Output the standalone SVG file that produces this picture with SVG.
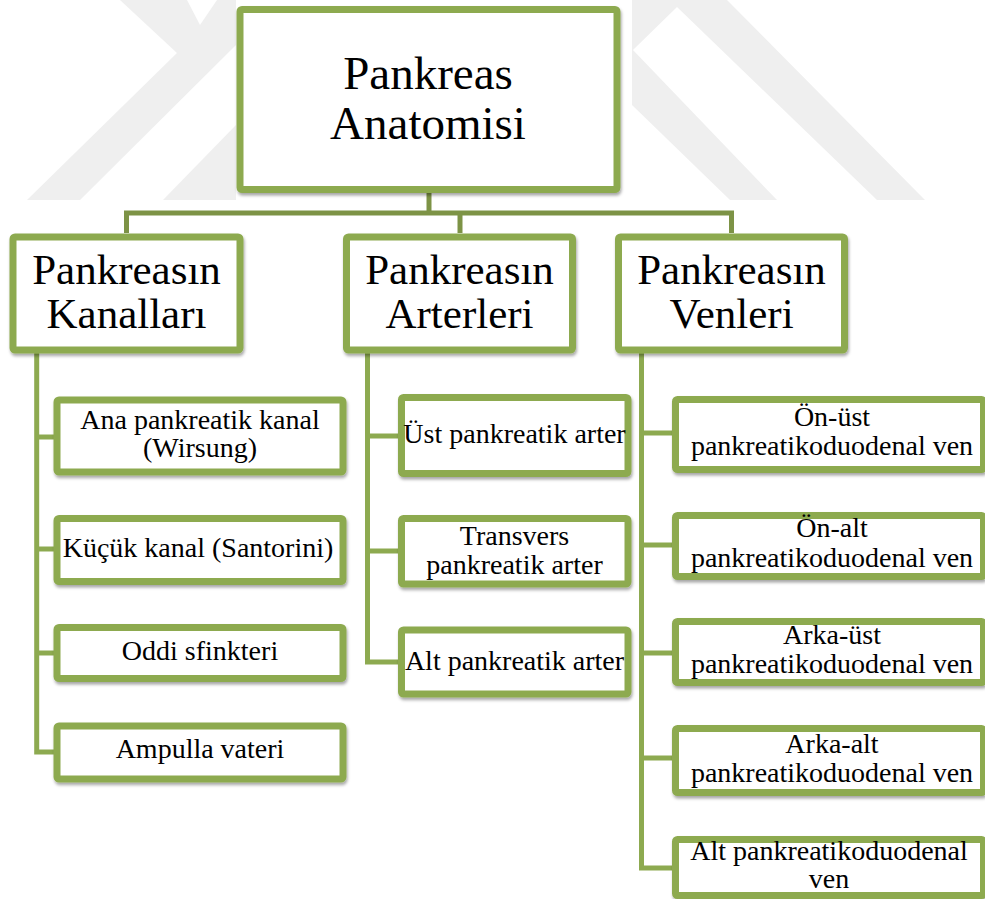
<svg xmlns="http://www.w3.org/2000/svg" width="985" height="899" viewBox="0 0 985 899">
<defs>
<filter id="sh" x="-10%" y="-10%" width="120%" height="130%">
<feDropShadow dx="1" dy="2.5" stdDeviation="1.5" flood-color="#000" flood-opacity="0.35"/>
</filter>
<style>
.box{fill:#fff;stroke:#8DAA50;stroke-width:7;filter:url(#sh)}
text{font-family:'Liberation Serif','Times New Roman','DejaVu Serif',serif;fill:#000;text-anchor:middle}
.big{font-size:47px}
.mid{font-size:43px}
.sm{font-size:28px}
.c1{fill:none;stroke:#7D9346;stroke-width:5}
.c2{fill:none;stroke:#8DAA50;stroke-width:5}
.wm{fill:#efefef}
</style>
</defs>
<rect width="985" height="899" fill="#fff"/>
<g id="watermark">
<polygon class="wm" points="120,0 187,0 200,25 217,0 236,0 236,45 80,200 27,200 177,53"/>
<polygon class="wm" points="163,200 236,125 236,200"/>
<polygon class="wm" points="632,0 727,0 925,200 730,200 632,105"/>
<polygon fill="#fff" points="633,50 677,7 877,200 777,200"/>
</g>
<g id="connectors">
<polyline class="c1" points="429,193 429,213"/>
<polyline class="c1" points="126.5,233 126.5,213 731.5,213 731.5,233"/>
<polyline class="c1" points="460,213 460,233"/>
<polyline class="c2" points="36.7,353 36.7,752 57,752"/>
<line class="c2" x1="36.7" y1="437" x2="57" y2="437"/>
<line class="c2" x1="36.7" y1="549" x2="57" y2="549"/>
<line class="c2" x1="36.7" y1="653" x2="57" y2="653"/>
<polyline class="c2" points="367.5,353 367.5,662 401.5,662"/>
<line class="c2" x1="367.5" y1="436" x2="401.5" y2="436"/>
<line class="c2" x1="367.5" y1="551" x2="401.5" y2="551"/>
<polyline class="c2" points="641.5,353 641.5,868 675.5,868"/>
<line class="c2" x1="641.5" y1="433" x2="675.5" y2="433"/>
<line class="c2" x1="641.5" y1="545" x2="675.5" y2="545"/>
<line class="c2" x1="641.5" y1="653" x2="675.5" y2="653"/>
<line class="c2" x1="641.5" y1="758" x2="675.5" y2="758"/>
</g>
<g id="root">
<rect class="box" x="240" y="9.5" width="377" height="180" rx="2"/>
<text class="big" x="428" y="89">Pankreas</text>
<text class="big" x="428" y="139">Anatomisi</text>
</g>
<g id="kanallar">
<rect class="box" x="13" y="237" width="227" height="113" rx="2"/>
<text class="mid" x="126.5" y="284">Pankreasın</text>
<text class="mid" x="126.5" y="328">Kanalları</text>
</g>
<g id="arterler">
<rect class="box" x="346.5" y="237" width="226" height="113" rx="2"/>
<text class="mid" x="459.5" y="284">Pankreasın</text>
<text class="mid" x="459.5" y="328">Arterleri</text>
</g>
<g id="venler">
<rect class="box" x="618.5" y="237" width="226" height="113" rx="2"/>
<text class="mid" x="731.5" y="284">Pankreasın</text>
<text class="mid" x="731.5" y="328">Venleri</text>
</g>
<g id="ana-kanal">
<rect class="box" x="57" y="400" width="286" height="72" rx="2"/>
<text class="sm" x="200" y="429">Ana pankreatik kanal</text>
<text class="sm" x="200" y="457">(Wirsung)</text>
</g>
<g id="kucuk-kanal">
<rect class="box" x="57" y="518.5" width="286" height="63" rx="2"/>
<text class="sm" x="198" y="557">Küçük kanal (Santorini)</text>
</g>
<g id="oddi">
<rect class="box" x="57" y="627.5" width="286" height="51" rx="2"/>
<text class="sm" x="200" y="660">Oddi sfinkteri</text>
</g>
<g id="ampulla">
<rect class="box" x="57" y="726" width="286" height="53" rx="2"/>
<text class="sm" x="200" y="758">Ampulla vateri</text>
</g>
<g id="ust-arter">
<rect class="box" x="401.5" y="397.5" width="226.5" height="76" rx="2"/>
<text class="sm" x="514.5" y="443">Üst pankreatik arter</text>
</g>
<g id="transvers-arter">
<rect class="box" x="401.5" y="518.5" width="226.5" height="65.5" rx="2"/>
<text class="sm" x="514.5" y="545">Transvers</text>
<text class="sm" x="514.5" y="574">pankreatik arter</text>
</g>
<g id="alt-arter">
<rect class="box" x="401.5" y="630" width="226.5" height="64" rx="2"/>
<text class="sm" x="514.5" y="670">Alt pankreatik arter</text>
</g>
<g id="on-ust">
<rect class="box" x="675.5" y="399.5" width="308" height="70" rx="2"/>
<text class="sm" x="832" y="426">Ön-üst</text>
<text class="sm" x="832" y="455">pankreatikoduodenal ven</text>
</g>
<g id="on-alt">
<rect class="box" x="675.5" y="515.5" width="308" height="61" rx="2"/>
<text class="sm" x="832" y="537">Ön-alt</text>
<text class="sm" x="832" y="567">pankreatikoduodenal ven</text>
</g>
<g id="arka-ust">
<rect class="box" x="675.5" y="621.5" width="308" height="61" rx="2"/>
<text class="sm" x="832" y="644">Arka-üst</text>
<text class="sm" x="832" y="673">pankreatikoduodenal ven</text>
</g>
<g id="arka-alt">
<rect class="box" x="675.5" y="728.5" width="308" height="64" rx="2"/>
<text class="sm" x="832" y="753">Arka-alt</text>
<text class="sm" x="832" y="782">pankreatikoduodenal ven</text>
</g>
<g id="alt-ven">
<rect class="box" x="675.5" y="839.5" width="308" height="56" rx="2"/>
<text class="sm" x="829" y="860">Alt pankreatikoduodenal</text>
<text class="sm" x="829" y="888">ven</text>
</g>
</svg>
